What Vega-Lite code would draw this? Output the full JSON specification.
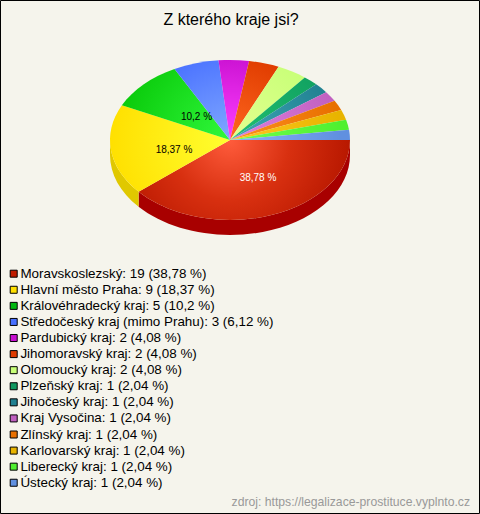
{"$schema":"https://vega.github.io/schema/vega-lite/v6.json","width":479,"height":513,"padding":{"left":0,"top":0,"right":1,"bottom":1},"autosize":"none","background":"#f5f4ec","view":{"stroke":"#000000","strokeWidth":1,"fill":"#f5f4ec"},"title":{"text":"Z kterého kraje jsi?","font":"Liberation Sans","fontSize":16,"fontWeight":"normal","color":"#000000","anchor":"middle","offset":-28,"dx":-8.5},"data":{"values":[{"kraj":"Moravskoslezský: 19 (38,78 %)","pocet":19,"popisek":"38,78 %"},{"kraj":"Hlavní město Praha: 9 (18,37 %)","pocet":9,"popisek":"18,37 %"},{"kraj":"Královéhradecký kraj: 5 (10,2 %)","pocet":5,"popisek":"10,2 %"},{"kraj":"Středočeský kraj (mimo Prahu): 3 (6,12 %)","pocet":3,"popisek":"6,12 %"},{"kraj":"Pardubický kraj: 2 (4,08 %)","pocet":2,"popisek":"4,08 %"},{"kraj":"Jihomoravský kraj: 2 (4,08 %)","pocet":2,"popisek":"4,08 %"},{"kraj":"Olomoucký kraj: 2 (4,08 %)","pocet":2,"popisek":"4,08 %"},{"kraj":"Plzeňský kraj: 1 (2,04 %)","pocet":1,"popisek":"2,04 %"},{"kraj":"Jihočeský kraj: 1 (2,04 %)","pocet":1,"popisek":"2,04 %"},{"kraj":"Kraj Vysočina: 1 (2,04 %)","pocet":1,"popisek":"2,04 %"},{"kraj":"Zlínský kraj: 1 (2,04 %)","pocet":1,"popisek":"2,04 %"},{"kraj":"Karlovarský kraj: 1 (2,04 %)","pocet":1,"popisek":"2,04 %"},{"kraj":"Liberecký kraj: 1 (2,04 %)","pocet":1,"popisek":"2,04 %"},{"kraj":"Ústecký kraj: 1 (2,04 %)","pocet":1,"popisek":"2,04 %"}]},"layer":[
{"mark":{"type":"square","opacity":1,"size":0},"encoding":{"fill":{"field":"kraj","type":"nominal","sort":null,"title":null,"scale":{"range":["#c01c00","#ffe000","#00b810","#4870ff","#c810d0","#e03c00","#c8ff78","#109860","#208090","#c060c0","#e87000","#e8b400","#50f030","#6090e0"]},"legend":{"orient":"none","legendX":7,"legendY":267,"symbolType":"square","symbolSize":49,"symbolStrokeColor":"#000000","symbolStrokeWidth":1,"labelFont":"Liberation Sans","labelFontSize":13.4,"labelColor":"#000000","labelOffset":0,"rowPadding":1.08,"padding":0,"labelLimit":400,"symbolOpacity":1}}}},
{"transform":[{"filter":{"field":"pocet","equal":19}}],"mark":{"type":"point","filled":true,"opacity":1,"size":4,"fill":"#a80000","shape":"M110.5,-116.5L110.5,-101.5A120,80,0,0,1,-100.88,-49.64L-100.88,-64.64A120,80,0,0,0,110.5,-116.5Z"},"encoding":{}},
{"transform":[{"filter":{"field":"pocet","equal":9}}],"mark":{"type":"point","filled":true,"opacity":1,"size":4,"fill":"#e0c800","shape":"M-100.88,-64.64L-100.88,-49.64A120,80,0,0,1,-129.5,-101.5L-129.5,-116.5A120,80,0,0,0,-100.88,-64.64Z"},"encoding":{}},
{"transform":[{"filter":{"field":"kraj","equal":"Moravskoslezský: 19 (38,78 %)"}}],"mark":{"type":"point","filled":true,"opacity":1,"size":4,"shape":"M-9.5,-116.5L110.5,-116.5A120,80,0,0,1,-100.88,-64.64Z","fill":{"gradient":"radial","x1":0.432,"y1":0.311,"r1":0,"x2":0.432,"y2":0.311,"r2":0.568,"stops":[{"offset":0,"color":"#ff5c3c"},{"offset":0.5,"color":"#d83010"},{"offset":1,"color":"#b81800"}]}},"encoding":{}},
{"transform":[{"filter":{"field":"kraj","equal":"Hlavní město Praha: 9 (18,37 %)"}}],"mark":{"type":"point","filled":true,"opacity":1,"size":4,"shape":"M-9.5,-116.5L-100.88,-64.64A120,80,0,0,1,-117.62,-151.21Z","fill":{"gradient":"radial","x1":1,"y1":0.428,"r1":0,"x2":1,"y2":0.428,"r2":1,"stops":[{"offset":0,"color":"#ffff30"},{"offset":1,"color":"#ffe000"}]}},"encoding":{}},
{"transform":[{"filter":{"field":"kraj","equal":"Královéhradecký kraj: 5 (10,2 %)"}}],"mark":{"type":"point","filled":true,"opacity":1,"size":4,"shape":"M-9.5,-116.5L-117.62,-151.21A120,80,0,0,1,-65,-187.43Z","fill":{"gradient":"radial","x1":1,"y1":0.828,"r1":0,"x2":1,"y2":0.828,"r2":1.11,"stops":[{"offset":0,"color":"#30f83c"},{"offset":1,"color":"#08c808"}]}},"encoding":{}},
{"transform":[{"filter":{"field":"kraj","equal":"Středočeský kraj (mimo Prahu): 3 (6,12 %)"}}],"mark":{"type":"point","filled":true,"opacity":1,"size":4,"shape":"M-9.5,-116.5L-65,-187.43A120,80,0,0,1,-21.02,-196.13Z","fill":{"gradient":"radial","x1":0.848,"y1":1,"r1":0,"x2":0.848,"y2":1,"r2":1.2,"stops":[{"offset":0,"color":"#80a8ff"},{"offset":1,"color":"#4870ff"}]}},"encoding":{}},
{"transform":[{"filter":{"field":"kraj","equal":"Pardubický kraj: 2 (4,08 %)"}}],"mark":{"type":"point","filled":true,"opacity":1,"size":4,"shape":"M-9.5,-116.5L-21.02,-196.13A120,80,0,0,1,9.65,-195.48Z","fill":{"gradient":"radial","x1":0.452,"y1":1,"r1":0,"x2":0.452,"y2":1,"r2":1.1,"stops":[{"offset":0,"color":"#ff40ff"},{"offset":1,"color":"#c810d0"}]}},"encoding":{}},
{"transform":[{"filter":{"field":"kraj","equal":"Jihomoravský kraj: 2 (4,08 %)"}}],"mark":{"type":"point","filled":true,"opacity":1,"size":4,"shape":"M-9.5,-116.5L9.65,-195.48A120,80,0,0,1,39.08,-189.65Z","fill":{"gradient":"radial","x1":0.192,"y1":1,"r1":0,"x2":0.192,"y2":1,"r2":1.1,"stops":[{"offset":0,"color":"#ff6820"},{"offset":1,"color":"#e03c00"}]}},"encoding":{}},
{"transform":[{"filter":{"field":"kraj","equal":"Olomoucký kraj: 2 (4,08 %)"}}],"mark":{"type":"point","filled":true,"opacity":1,"size":4,"shape":"M-9.5,-116.5L39.08,-189.65A120,80,0,0,1,65.32,-179.04Z","fill":{"gradient":"radial","x1":0,"y1":0.989,"r1":0,"x2":0,"y2":0.989,"r2":1.3,"stops":[{"offset":0,"color":"#e4ff90"},{"offset":1,"color":"#c8ff78"}]}},"encoding":{}},
{"transform":[{"filter":{"field":"kraj","equal":"Plzeňský kraj: 1 (2,04 %)"}}],"mark":{"type":"point","filled":true,"opacity":1,"size":4,"shape":"M-9.5,-116.5L65.32,-179.04A120,80,0,0,1,76.7,-172.16Z","fill":{"gradient":"radial","x1":0,"y1":0.863,"r1":0,"x2":0,"y2":0.863,"r2":1.276,"stops":[{"offset":0,"color":"#20c070"},{"offset":1,"color":"#10a060"}]}},"encoding":{}},
{"transform":[{"filter":{"field":"kraj","equal":"Jihočeský kraj: 1 (2,04 %)"}}],"mark":{"type":"point","filled":true,"opacity":1,"size":4,"shape":"M-9.5,-116.5L76.7,-172.16A120,80,0,0,1,86.67,-164.35Z","fill":{"gradient":"radial","x1":0,"y1":0.789,"r1":0,"x2":0,"y2":0.789,"r2":1.144,"stops":[{"offset":0,"color":"#40a8b8"},{"offset":1,"color":"#208090"}]}},"encoding":{}},
{"transform":[{"filter":{"field":"kraj","equal":"Kraj Vysočina: 1 (2,04 %)"}}],"mark":{"type":"point","filled":true,"opacity":1,"size":4,"shape":"M-9.5,-116.5L86.67,-164.35A120,80,0,0,1,95.1,-155.76Z","fill":{"gradient":"radial","x1":0,"y1":0.729,"r1":0,"x2":0,"y2":0.729,"r2":1.05,"stops":[{"offset":0,"color":"#e080e0"},{"offset":1,"color":"#c060c0"}]}},"encoding":{}},
{"transform":[{"filter":{"field":"kraj","equal":"Zlínský kraj: 1 (2,04 %)"}}],"mark":{"type":"point","filled":true,"opacity":1,"size":4,"shape":"M-9.5,-116.5L95.1,-155.76A120,80,0,0,1,101.73,-146.52Z","fill":{"gradient":"radial","x1":0,"y1":0.676,"r1":0,"x2":0,"y2":0.676,"r2":0.989,"stops":[{"offset":0,"color":"#ff9020"},{"offset":1,"color":"#e87000"}]}},"encoding":{}},
{"transform":[{"filter":{"field":"kraj","equal":"Karlovarský kraj: 1 (2,04 %)"}}],"mark":{"type":"point","filled":true,"opacity":1,"size":4,"shape":"M-9.5,-116.5L101.73,-146.52A120,80,0,0,1,106.58,-136.8Z","fill":{"gradient":"radial","x1":0,"y1":0.629,"r1":0,"x2":0,"y2":0.629,"r2":0.948,"stops":[{"offset":0,"color":"#ffc820"},{"offset":1,"color":"#e8b400"}]}},"encoding":{}},
{"transform":[{"filter":{"field":"kraj","equal":"Liberecký kraj: 1 (2,04 %)"}}],"mark":{"type":"point","filled":true,"opacity":1,"size":4,"shape":"M-9.5,-116.5L106.58,-136.8A120,80,0,0,1,109.52,-126.73Z","fill":{"gradient":"radial","x1":0,"y1":0.585,"r1":0,"x2":0,"y2":0.585,"r2":0.924,"stops":[{"offset":0,"color":"#70ff50"},{"offset":1,"color":"#50f030"}]}},"encoding":{}},
{"transform":[{"filter":{"field":"kraj","equal":"Ústecký kraj: 1 (2,04 %)"}}],"mark":{"type":"point","filled":true,"opacity":1,"size":4,"shape":"M-9.5,-116.5L109.52,-126.73A120,80,0,0,1,110.5,-116.5Z","fill":{"gradient":"radial","x1":0,"y1":0.543,"r1":0,"x2":0,"y2":0.543,"r2":0.917,"stops":[{"offset":0,"color":"#88b0f8"},{"offset":1,"color":"#6090e0"}]}},"encoding":{}},
{"transform":[{"filter":"datum.pocet == 19"}],"mark":{"type":"text","font":"Liberation Sans","fontSize":10,"color":"#ffffff","dx":18.5,"dy":-78.5},"encoding":{"text":{"field":"popisek"}}},
{"transform":[{"filter":"datum.pocet == 9"}],"mark":{"type":"text","font":"Liberation Sans","fontSize":10,"color":"#000000","dx":-65.5,"dy":-106.5},"encoding":{"text":{"field":"popisek"}}},
{"transform":[{"filter":"datum.pocet == 5"}],"mark":{"type":"text","font":"Liberation Sans","fontSize":10,"color":"#000000","dx":-43,"dy":-139.5},"encoding":{"text":{"field":"popisek"}}},
{"data":{"values":[{"zdroj":"zdroj: https://legalizace-prostituce.vyplnto.cz"}]},"mark":{"type":"text","font":"Liberation Sans","fontSize":12.2,"color":"#999999","align":"right","baseline":"middle","dx":230.5,"dy":245.5},"encoding":{"text":{"field":"zdroj"}}}]}
